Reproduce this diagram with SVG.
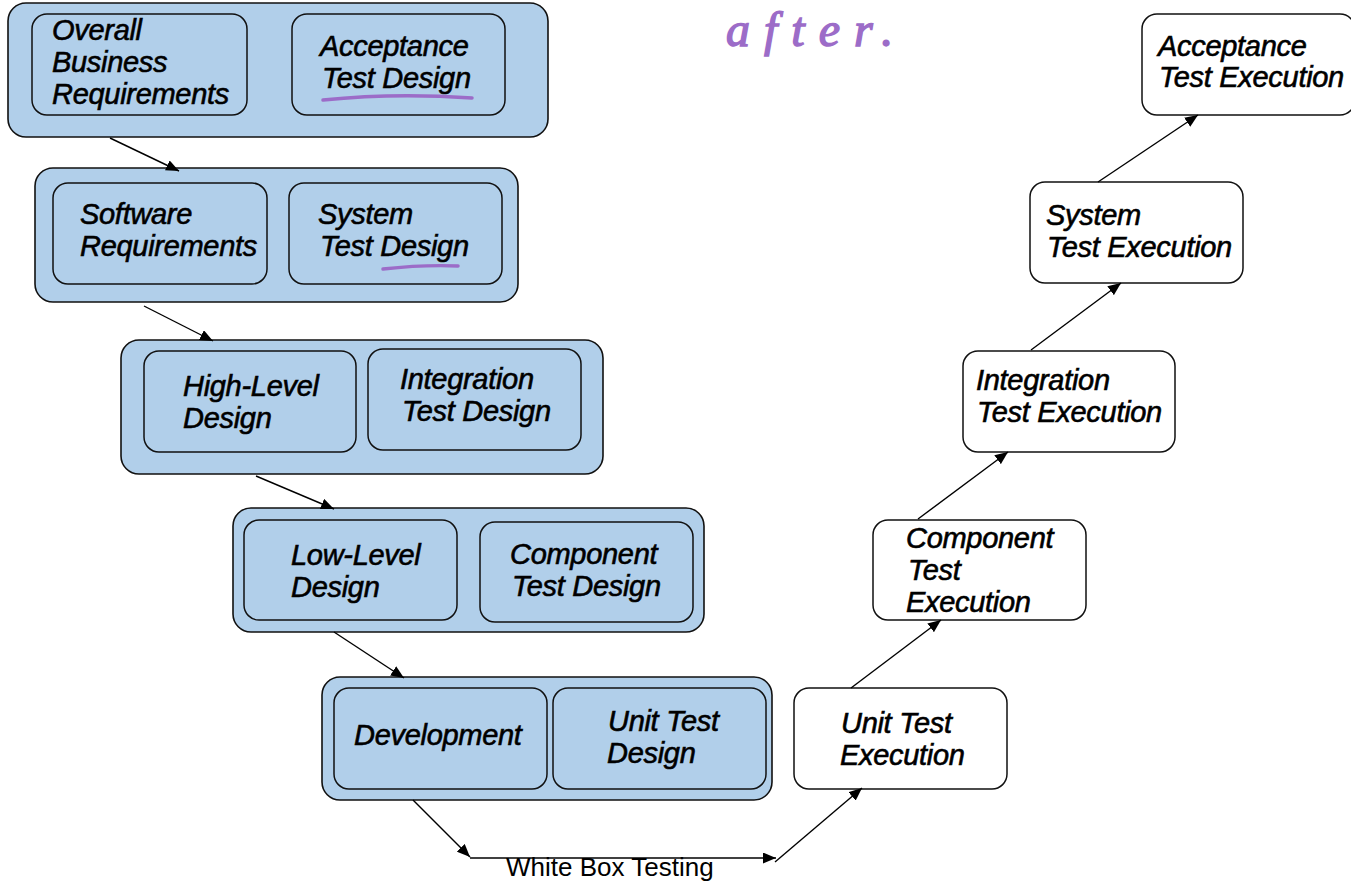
<svg xmlns="http://www.w3.org/2000/svg" width="1351" height="881" viewBox="0 0 1351 881">
  <defs>
    <marker id="arrow" markerUnits="userSpaceOnUse" markerWidth="13" markerHeight="11" refX="13" refY="5.5" orient="auto">
      <path d="M0,0 L13,5.5 L0,11 z" fill="#000"/>
    </marker>
    <style>
      .stage { fill: #b1cfea; stroke: #111; stroke-width: 1.6; }
      .task { fill: #b1cfea; stroke: #111; stroke-width: 1.5; }
      .exec { fill: #fff; stroke: #111; stroke-width: 1.5; }
      .lbl { font-family: "Liberation Sans", Arial, sans-serif; font-style: italic; font-size: 29px; fill: #000; stroke: #000; stroke-width: 0.6px; letter-spacing: -0.3px; }
      .edge { fill: none; stroke: #000; stroke-width: 1.4; marker-end: url(#arrow); }
      .ink { fill: none; stroke: #9c6cc8; stroke-width: 3.5; stroke-linecap: round; }
      .note { font-family: "Liberation Sans", Arial, sans-serif; font-size: 26px; fill: #000; }
      .pen { font-family: "Liberation Serif", serif; font-style: italic; font-size: 48px; letter-spacing: 14px; fill: #9c6cc8; stroke: #9c6cc8; stroke-width: 1.4px; }
    </style>
  </defs>

  <rect width="1351" height="881" fill="#fff"/>

  <!-- left arm: design stages -->
  <g id="stage-business">
    <rect class="stage" x="8" y="3" width="540" height="134" rx="18"/>
    <g id="overall-business-requirements">
      <rect class="task" x="32" y="14" width="215" height="101" rx="15"/>
      <text class="lbl" x="52" y="40">Overall</text>
      <text class="lbl" x="52" y="72">Business</text>
      <text class="lbl" x="52" y="104">Requirements</text>
    </g>
    <g id="acceptance-test-design">
      <rect class="task" x="292" y="14" width="213" height="101" rx="15"/>
      <text class="lbl" x="320" y="56">Acceptance</text>
      <text class="lbl" x="322" y="88">Test Design</text>
    </g>
  </g>

  <g id="stage-software">
    <rect class="stage" x="35" y="168" width="483" height="134" rx="18"/>
    <g id="software-requirements">
      <rect class="task" x="53" y="183" width="214" height="101" rx="15"/>
      <text class="lbl" x="80" y="224">Software</text>
      <text class="lbl" x="80" y="256">Requirements</text>
    </g>
    <g id="system-test-design">
      <rect class="task" x="289" y="183" width="213" height="101" rx="15"/>
      <text class="lbl" x="318" y="224">System</text>
      <text class="lbl" x="320" y="256">Test Design</text>
    </g>
  </g>

  <g id="stage-high-level">
    <rect class="stage" x="121" y="340" width="482" height="134" rx="18"/>
    <g id="high-level-design">
      <rect class="task" x="144" y="351" width="212" height="101" rx="15"/>
      <text class="lbl" x="183" y="396">High-Level</text>
      <text class="lbl" x="183" y="428">Design</text>
    </g>
    <g id="integration-test-design">
      <rect class="task" x="368" y="349" width="213" height="101" rx="15"/>
      <text class="lbl" x="400" y="389">Integration</text>
      <text class="lbl" x="402" y="421">Test Design</text>
    </g>
  </g>

  <g id="stage-low-level">
    <rect class="stage" x="233" y="508" width="471" height="124" rx="18"/>
    <g id="low-level-design">
      <rect class="task" x="244" y="520" width="213" height="100" rx="15"/>
      <text class="lbl" x="291" y="565">Low-Level</text>
      <text class="lbl" x="291" y="597">Design</text>
    </g>
    <g id="component-test-design">
      <rect class="task" x="480" y="522" width="213" height="100" rx="15"/>
      <text class="lbl" x="510" y="564">Component</text>
      <text class="lbl" x="512" y="596">Test Design</text>
    </g>
  </g>

  <g id="stage-development">
    <rect class="stage" x="322" y="677" width="450" height="123" rx="18"/>
    <g id="development">
      <rect class="task" x="334" y="688" width="213" height="101" rx="15"/>
      <text class="lbl" x="354" y="745">Development</text>
    </g>
    <g id="unit-test-design">
      <rect class="task" x="553" y="688" width="213" height="101" rx="15"/>
      <text class="lbl" x="608" y="731">Unit Test</text>
      <text class="lbl" x="607" y="763">Design</text>
    </g>
  </g>

  <!-- right arm: execution steps -->
  <g id="unit-test-execution">
    <rect class="exec" x="794" y="688" width="213" height="101" rx="15"/>
    <text class="lbl" x="841" y="733">Unit Test</text>
    <text class="lbl" x="840" y="765">Execution</text>
  </g>
  <g id="component-test-execution">
    <rect class="exec" x="873" y="520" width="213" height="100" rx="15"/>
    <text class="lbl" x="906" y="548">Component</text>
    <text class="lbl" x="908" y="580">Test</text>
    <text class="lbl" x="906" y="612">Execution</text>
  </g>
  <g id="integration-test-execution">
    <rect class="exec" x="963" y="351" width="212" height="101" rx="15"/>
    <text class="lbl" x="976" y="390">Integration</text>
    <text class="lbl" x="977" y="422">Test Execution</text>
  </g>
  <g id="system-test-execution">
    <rect class="exec" x="1030" y="182" width="213" height="101" rx="15"/>
    <text class="lbl" x="1046" y="225">System</text>
    <text class="lbl" x="1047" y="257">Test Execution</text>
  </g>
  <g id="acceptance-test-execution">
    <rect class="exec" x="1142" y="14" width="213" height="101" rx="15"/>
    <text class="lbl" x="1158" y="56">Acceptance</text>
    <text class="lbl" x="1159" y="87">Test Execution</text>
  </g>

  <!-- connectors -->
  <g id="connectors">
    <line class="edge" x1="110" y1="138" x2="179" y2="171"/>
    <line class="edge" x1="144" y1="306" x2="213" y2="341"/>
    <line class="edge" x1="256" y1="476" x2="334" y2="509"/>
    <line class="edge" x1="334" y1="632" x2="404" y2="678"/>
    <line class="edge" x1="413" y1="800" x2="470" y2="857"/>
    <line class="edge" x1="470" y1="858" x2="776" y2="858"/>
    <line class="edge" x1="775" y1="862" x2="862" y2="788"/>
    <line class="edge" x1="851" y1="688" x2="941" y2="620"/>
    <line class="edge" x1="918" y1="519" x2="1008" y2="452"/>
    <line class="edge" x1="1031" y1="350" x2="1121" y2="283"/>
    <line class="edge" x1="1098" y1="182" x2="1198" y2="115"/>
    <text class="note" x="506" y="876">White Box Testing</text>
  </g>

  <!-- purple pen annotations -->
  <g id="annotations">
    <path class="ink" d="M323,100 C380,94 430,95 472,98"/>
    <path class="ink" d="M383,269 C410,266 435,265 458,266" stroke-width="3"/>
    <text class="pen" x="726" y="46">after.</text>
  </g>
</svg>
